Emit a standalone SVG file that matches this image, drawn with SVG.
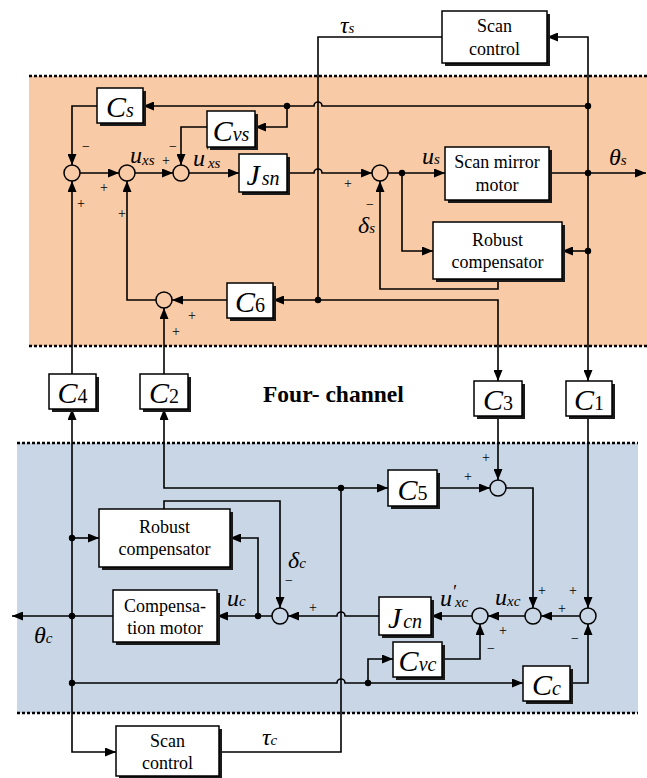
<svg xmlns="http://www.w3.org/2000/svg" width="647" height="778" viewBox="0 0 647 778">
<style>
.box{fill:#fff;stroke:#000;stroke-width:1.5}
.sh{fill:#1a1a1a}
.ln{fill:none;stroke:#000;stroke-width:1.6}
.ar{marker-end:url(#ah)}
.sum{fill:none;stroke:#000;stroke-width:1.5}
.dot{fill:#000}
.dash{stroke:#000;stroke-width:2.6;stroke-dasharray:3 2}
text{font-family:'Liberation Serif','Times New Roman',Times,'DejaVu Serif',serif}
.t{font-size:18px;text-anchor:middle}
.c{font-size:30px;font-style:italic;text-anchor:middle}
.si{font-size:20px;font-style:italic}
.sn{font-size:20px;font-style:normal}
.m{font-style:italic;font-size:24px}
.ms{font-size:15px}
.pm{font-size:14px;text-anchor:middle}
.b{font-size:23.5px;font-weight:bold}
</style>
<defs>
<marker id="ah" markerUnits="userSpaceOnUse" markerWidth="11" markerHeight="9" refX="11" refY="4.5" orient="auto">
<path d="M0,0 L11,4.5 L0,9 z" fill="#000"/>
</marker>
</defs>

<rect x="29" y="76" width="618" height="270" fill="#F8CAA6"/>
<rect x="17" y="443" width="621" height="270" fill="#C9D6E6"/>
<line class="dash" x1="29" y1="76" x2="647" y2="76"/>
<line class="dash" x1="29" y1="346" x2="647" y2="346"/>
<line class="dash" x1="17" y1="443" x2="638" y2="443"/>
<line class="dash" x1="17" y1="713" x2="638" y2="713"/>

<text class="b" x="263" y="402">Four- channel</text>

<g id="connectors">
<path class="ln" d="M442,37 H318 V300"/>
<path class="ln ar" d="M318,300 H498 V381"/>
<path class="ln ar" d="M318,300 H273"/>
<path class="ln ar" d="M227,300 H172"/>
<path class="ln ar" d="M156,300 H127 V181"/>
<path class="ln ar" d="M164,374 V308"/>
<path class="ln ar" d="M72,374 V181"/>
<path class="ln ar" d="M80,173 H119"/>
<path class="ln ar" d="M135,173 H173"/>
<path class="ln ar" d="M189,173 H239"/>
<path class="ln ar" d="M287,173 H314 A4,4 0 0 1 322,173 H372"/>
<path class="ln ar" d="M388,173 H445"/>
<path class="ln ar" d="M402,173 V251 H433"/>
<path class="ln ar" d="M549,173 H646"/>
<path class="ln ar" d="M588,106 V37 H547"/>
<path class="ln ar" d="M588,106 V381"/>
<path class="ln ar" d="M588,251 H562"/>
<path class="ln ar" d="M498,279 V289 H380 V181"/>
<path class="ln ar" d="M588,106 H322 A4,4 0 0 0 314,106 H143"/>
<path class="ln ar" d="M287,106 V127 H255"/>
<path class="ln ar" d="M97,106 H72 V165"/>
<path class="ln ar" d="M207,127 H181 V165"/>
<path class="ln ar" d="M341,488 H164 V409"/>
<path class="ln ar" d="M341,488 H388"/>
<path class="ln ar" d="M437,488 H490"/>
<path class="ln ar" d="M498,416 V480"/>
<path class="ln ar" d="M506,488 H533 V608"/>
<path class="ln ar" d="M588,416 V608"/>
<path class="ln ar" d="M580,616 H541"/>
<path class="ln ar" d="M525,616 H488"/>
<path class="ln ar" d="M472,616 H431"/>
<path class="ln ar" d="M379,616 H345 A4,4 0 0 0 337,616 H288"/>
<path class="ln ar" d="M272,616 H217"/>
<path class="ln ar" d="M258,616 V538 H230"/>
<path class="ln ar" d="M164,509 V501 H280 V608"/>
<path class="ln ar" d="M113,616 H12"/>
<path class="ln ar" d="M72,538 V409"/>
<path class="ln ar" d="M72,538 V752 H116"/>
<path class="ln ar" d="M72,538 H99"/>
<path class="ln ar" d="M72,683 H337 A4,4 0 0 1 345,683 H523"/>
<path class="ln ar" d="M368,683 V659 H393"/>
<path class="ln ar" d="M442,659 H480 V624"/>
<path class="ln ar" d="M570,683 H588 V624"/>
<path class="ln" d="M219,752 H341 V488"/>
<circle class="dot" cx="318" cy="300" r="3.2"/>
<circle class="dot" cx="287" cy="106" r="3.2"/>
<circle class="dot" cx="588" cy="106" r="3.2"/>
<circle class="dot" cx="588" cy="173" r="3.2"/>
<circle class="dot" cx="588" cy="251" r="3.2"/>
<circle class="dot" cx="402" cy="173" r="3.2"/>
<circle class="dot" cx="341" cy="488" r="3.2"/>
<circle class="dot" cx="258" cy="616" r="3.2"/>
<circle class="dot" cx="72" cy="538" r="3.2"/>
<circle class="dot" cx="72" cy="616" r="3.2"/>
<circle class="dot" cx="72" cy="683" r="3.2"/>
<circle class="dot" cx="368" cy="683" r="3.2"/>
<circle class="sum" cx="72" cy="173" r="8"/>
<circle class="sum" cx="127" cy="173" r="8"/>
<circle class="sum" cx="181" cy="173" r="8"/>
<circle class="sum" cx="380" cy="173" r="8"/>
<circle class="sum" cx="164" cy="300" r="8"/>
<circle class="sum" cx="498" cy="488" r="8"/>
<circle class="sum" cx="533" cy="616" r="8"/>
<circle class="sum" cx="480" cy="616" r="8"/>
<circle class="sum" cx="588" cy="616" r="8"/>
<circle class="sum" cx="280" cy="616" r="8"/>
<text class="pm" x="86" y="151">−</text>
<text class="pm" x="104" y="192">+</text>
<text class="pm" x="81" y="208">+</text>
<text class="pm" x="122" y="218">+</text>
<text class="pm" x="166" y="165">+</text>
<text class="pm" x="173" y="151">−</text>
<text class="pm" x="348" y="188">+</text>
<text class="pm" x="370" y="209">−</text>
<text class="pm" x="192" y="320">+</text>
<text class="pm" x="176" y="336">+</text>
<text class="pm" x="486" y="462">+</text>
<text class="pm" x="468" y="481">+</text>
<text class="pm" x="542" y="595">+</text>
<text class="pm" x="573" y="595">+</text>
<text class="pm" x="562" y="613">+</text>
<text class="pm" x="575" y="643">−</text>
<text class="pm" x="503" y="635">+</text>
<text class="pm" x="491" y="653">−</text>
<text class="pm" x="313" y="612">+</text>
<text class="pm" x="289" y="585">−</text>
<text class="m" x="340" y="33">τ<tspan class="ms">s</tspan></text>
<text class="m" x="130" y="163">u<tspan class="ms" dy="2">xs</tspan></text>
<text class="m" x="193" y="166">u<tspan font-size="18" dy="-8">′</tspan><tspan class="ms" dx="-1" dy="10">xs</tspan></text>
<text class="m" x="422" y="164">u<tspan class="ms">s</tspan></text>
<text class="m" x="609" y="165">θ<tspan class="ms">s</tspan></text>
<text class="m" x="358" y="233">δ<tspan class="ms">s</tspan></text>
<text class="m" x="495" y="605">u<tspan class="ms" dy="1">xc</tspan></text>
<text class="m" x="440" y="606">u<tspan font-size="18" dy="-8">′</tspan><tspan class="ms" dx="-1" dy="9">xc</tspan></text>
<text class="m" x="288" y="568">δ<tspan class="ms">c</tspan></text>
<text class="m" x="227" y="606">u<tspan class="ms">c</tspan></text>
<text class="m" x="34" y="643">θ<tspan class="ms">c</tspan></text>
<text class="m" x="262" y="745">τ<tspan class="ms">c</tspan></text>
</g>

<g id="scan-control-top"><rect class="sh" x="445" y="14" width="105" height="52"/><rect class="box" x="442" y="11" width="105" height="52"/><text class="t" x="494.5" y="32">Scan</text><text class="t" x="494.5" y="55">control</text></g>
<g id="Cs"><rect class="sh" x="100" y="91" width="46" height="35"/><rect class="box" x="97" y="88" width="46" height="35"/><text class="c" x="120" y="117">C<tspan class="si">s</tspan></text></g>
<g id="Cvs"><rect class="sh" x="210" y="114" width="48" height="36"/><rect class="box" x="207" y="111" width="48" height="36"/><text class="c" x="231" y="141">C<tspan class="si">vs</tspan></text></g>
<g id="Jsn"><rect class="sh" x="242" y="157" width="48" height="38"/><rect class="box" x="239" y="154" width="48" height="38"/><text class="c" x="263" y="185">J<tspan class="si" dx="2">sn</tspan></text></g>
<g id="scan-mirror-motor"><rect class="sh" x="448" y="150" width="104" height="53"/><rect class="box" x="445" y="147" width="104" height="53"/><text class="t" x="497" y="168">Scan mirror</text><text class="t" x="497" y="191">motor</text></g>
<g id="robust-top"><rect class="sh" x="436" y="225" width="129" height="57"/><rect class="box" x="433" y="222" width="129" height="57"/><text class="t" x="497.5" y="246">Robust</text><text class="t" x="497.5" y="268">compensator</text></g>
<g id="C6"><rect class="sh" x="230" y="286" width="46" height="35"/><rect class="box" x="227" y="283" width="46" height="35"/><text class="c" x="250" y="312">C<tspan class="sn">6</tspan></text></g>
<g id="C4"><rect class="sh" x="52" y="377" width="47" height="35"/><rect class="box" x="49" y="374" width="47" height="35"/><text class="c" x="72.5" y="403">C<tspan class="sn">4</tspan></text></g>
<g id="C2"><rect class="sh" x="143" y="377" width="48" height="35"/><rect class="box" x="140" y="374" width="48" height="35"/><text class="c" x="164" y="403">C<tspan class="sn">2</tspan></text></g>
<g id="C3"><rect class="sh" x="477" y="384" width="48" height="35"/><rect class="box" x="474" y="381" width="48" height="35"/><text class="c" x="498" y="410">C<tspan class="sn">3</tspan></text></g>
<g id="C1"><rect class="sh" x="569" y="384" width="46" height="35"/><rect class="box" x="566" y="381" width="46" height="35"/><text class="c" x="589" y="410">C<tspan class="sn">1</tspan></text></g>
<g id="C5"><rect class="sh" x="391" y="473" width="49" height="36"/><rect class="box" x="388" y="470" width="49" height="36"/><text class="c" x="412.5" y="500">C<tspan class="sn">5</tspan></text></g>
<g id="robust-bottom"><rect class="sh" x="102" y="512" width="131" height="58"/><rect class="box" x="99" y="509" width="131" height="58"/><text class="t" x="164.5" y="533">Robust</text><text class="t" x="164.5" y="555">compensator</text></g>
<g id="Jcn"><rect class="sh" x="382" y="600" width="52" height="38"/><rect class="box" x="379" y="597" width="52" height="38"/><text class="c" x="405" y="628">J<tspan class="si" dx="2">cn</tspan></text></g>
<g id="Cvc"><rect class="sh" x="396" y="645" width="49" height="35"/><rect class="box" x="393" y="642" width="49" height="35"/><text class="c" x="417.5" y="671">C<tspan class="si">vc</tspan></text></g>
<g id="Cc"><rect class="sh" x="526" y="669" width="47" height="35"/><rect class="box" x="523" y="666" width="47" height="35"/><text class="c" x="546.5" y="695">C<tspan class="si">c</tspan></text></g>
<g id="compensation-motor"><rect class="sh" x="116" y="593" width="104" height="52"/><rect class="box" x="113" y="590" width="104" height="52"/><text class="t" x="165" y="612">Compensa-</text><text class="t" x="165" y="634">tion motor</text></g>
<g id="scan-control-bottom"><rect class="sh" x="119" y="729" width="103" height="50"/><rect class="box" x="116" y="726" width="103" height="50"/><text class="t" x="167.5" y="747">Scan</text><text class="t" x="167.5" y="769">control</text></g>
</svg>
